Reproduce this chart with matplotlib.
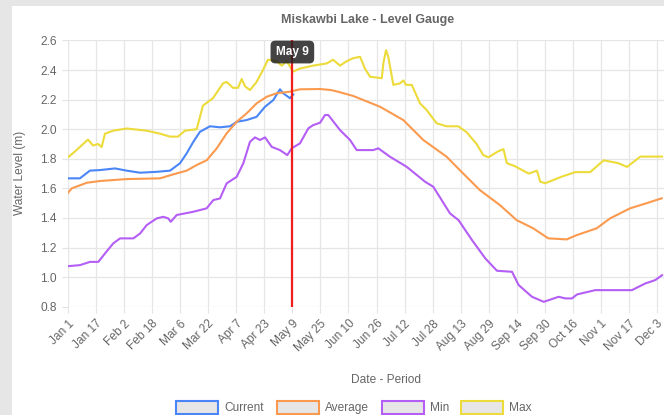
import matplotlib.pyplot as plt
from matplotlib.patches import Rectangle

plt.rcParams['font.family'] = ['Liberation Sans', 'DejaVu Sans']

# day of year (0 = Jan 1) and water level (m)
current_days = [0, 6.8, 12.5, 18.3, 26.8, 33.5, 41.1, 50.6, 58.2, 63.9, 67.7, 71.5, 75.3,
                81, 86.7, 92.4, 96.2, 101.9, 107.6, 112.4, 117.1, 120.9, 122.8, 126.6, 128.5]
current_vals = [1.668, 1.668, 1.72, 1.724, 1.735, 1.72, 1.706, 1.712, 1.72, 1.77, 1.837, 1.915, 1.983,
                2.02, 2.013, 2.02, 2.05, 2.062, 2.084, 2.152, 2.197, 2.27, 2.243, 2.21, 2.235]

average_days = [0, 2.1, 10.7, 18.3, 33.5, 52.5, 60.1, 67.7, 73.4, 79.1, 84.8, 90.5, 96.2, 101.9,
                107.6, 113.4, 119, 126.6, 132.3, 143.8, 150, 155.2, 162.7, 178, 191.3, 202.7,
                216, 225.5, 235, 246.4, 256, 265.4, 274, 284.5, 290.2, 301.6, 309.2, 320.6, 330.1, 338.7]
average_vals = [1.57, 1.60, 1.638, 1.65, 1.663, 1.668, 1.695, 1.72, 1.758, 1.79, 1.87, 1.972, 2.05, 2.107,
                2.175, 2.22, 2.243, 2.254, 2.27, 2.272, 2.265, 2.25, 2.225, 2.152, 2.062, 1.927,
                1.814, 1.70, 1.588, 1.487, 1.385, 1.33, 1.262, 1.255, 1.284, 1.33, 1.397, 1.465, 1.50, 1.533]

min_days = [0, 6.8, 12.5, 17.3, 21.1, 25.8, 29.7, 37.3, 41.1, 44.9, 50.6, 54.4, 57.2, 58.6, 62,
            71.5, 79.1, 82.9, 86.7, 90.5, 96.2, 100, 103.8, 106.7, 109.5, 112.4, 116.2, 120.9,
            125.1, 127.6, 132.3, 137.1, 139.9, 143.8, 146.6, 148.5, 155.2, 160.9, 164.7, 174.2,
            177, 183.7, 193.2, 203.7, 208.4, 217.9, 222.8, 230.5, 238.1, 244.7, 253.3, 257.1,
            264.7, 271.4, 279.9, 283.7, 287.5, 290.4, 300.8, 321.7, 329.3, 335, 338.9]
min_vals = [1.074, 1.081, 1.103, 1.103, 1.16, 1.228, 1.262, 1.262, 1.295, 1.352, 1.397, 1.408, 1.397, 1.374, 1.42,
            1.442, 1.465, 1.521, 1.532, 1.634, 1.678, 1.769, 1.915, 1.945, 1.927, 1.945, 1.881, 1.859,
            1.825, 1.871, 1.904, 2.006, 2.028, 2.044, 2.096, 2.096, 1.994, 1.927, 1.859, 1.859,
            1.871, 1.814, 1.746, 1.645, 1.611, 1.431, 1.385, 1.25, 1.126, 1.043, 1.036, 0.946,
            0.867, 0.833, 0.867, 0.856, 0.856, 0.883, 0.912, 0.912, 0.957, 0.98, 1.013]

max_days = [0, 4, 11.4, 14.3, 17.1, 19.2, 21.1, 25.7, 33.5, 44.9, 52.5, 58.2, 62.7, 66.7, 73.4, 77,
            82.7, 88.4, 90.5, 94.1, 97, 99.1, 101, 103.8, 107.6, 111.2, 114.1, 119, 121.9, 124.8,
            128.4, 132.3, 139.8, 147.6, 151.2, 155.2, 159, 162.6, 166.6, 169.4, 172.3, 179, 179.9,
            181.4, 182.7, 185.6, 189.4, 191.3, 192.8, 196.1, 200.8, 204.6, 210.3, 216, 222.6,
            227.4, 233.1, 236.9, 239.8, 245.3, 248.4, 250.4, 255, 262.8, 267.5, 269.4, 272.3,
            281.8, 289.4, 297.9, 305.6, 314.1, 318.9, 326.5, 338.9]
max_vals = [1.81, 1.85, 1.93, 1.89, 1.90, 1.88, 1.97, 1.99, 2.005, 1.99, 1.97, 1.95, 1.95, 1.99, 2.0, 2.16,
            2.21, 2.31, 2.32, 2.28, 2.28, 2.34, 2.29, 2.265, 2.32, 2.40, 2.47, 2.46, 2.43, 2.46,
            2.39, 2.41, 2.43, 2.445, 2.47, 2.43, 2.46, 2.48, 2.49, 2.41, 2.355, 2.345, 2.445,
            2.535, 2.49, 2.30, 2.31, 2.33, 2.30, 2.30, 2.175, 2.13, 2.04, 2.02, 2.02,
            1.98, 1.90, 1.825, 1.81, 1.85, 1.865, 1.77, 1.75, 1.70, 1.72, 1.645, 1.635,
            1.68, 1.71, 1.71, 1.79, 1.77, 1.745, 1.815, 1.815]

tick_labels = ['Jan 1', 'Jan 17', 'Feb 2', 'Feb 18', 'Mar 6', 'Mar 22', 'Apr 7', 'Apr 23',
               'May 9', 'May 25', 'Jun 10', 'Jun 26', 'Jul 12', 'Jul 28', 'Aug 13', 'Aug 29',
               'Sep 14', 'Sep 30', 'Oct 16', 'Nov 1', 'Nov 17', 'Dec 3']
tick_days = [16 * i for i in range(len(tick_labels))]
y_ticks = [0.8, 1.0, 1.2, 1.4, 1.6, 1.8, 2.0, 2.2, 2.4, 2.6]
marker_day = 128  # May 9

series = [('Current', current_days, current_vals, '#4a86f7'),
          ('Average', average_days, average_vals, '#fb9a4f'),
          ('Min', min_days, min_vals, '#b45ef5'),
          ('Max', max_days, max_vals, '#ecdb3a')]

W, H = 664, 415
fig = plt.figure(figsize=(W / 100, H / 100), dpi=100)
fig.patch.set_facecolor('#e6e6e6')
# white card behind everything
card = Rectangle((12 / W, 0), 1 - 12 / W, 1 - 6 / H, transform=fig.transFigure,
                 facecolor='white', edgecolor='none', zorder=-10)
fig.add_artist(card)

ax = fig.add_axes([68 / W, 1 - 306.7 / H, (W - 68) / W, (306.7 - 40.5) / H])
ax.set_facecolor('none')
for name, d, v, c in series:
    ax.plot(d, v, color=c, lw=1.5, solid_joinstyle='round', zorder=3)
ax.axvline(marker_day, color='#f01e1e', lw=1.6, zorder=4)

ax.set_xlim(0, 340)
ax.set_ylim(0.8, 2.6)
ax.set_xticks(tick_days)
ax.set_xticklabels(tick_labels, rotation=45, ha='right', va='top', rotation_mode='anchor')
ax.set_yticks(y_ticks)
ax.set_yticklabels([f'{t:.1f}' for t in y_ticks])
ax.tick_params(colors='#666666', labelsize=8.6, length=4, width=0.8, pad=4)
ax.tick_params(axis='both', color='#e3e3e3')
ax.grid(True, color='#e6e6e6', lw=0.9)
for s in ax.spines.values():
    s.set_visible(False)

ax.text(marker_day, 2.522, 'May 9', color='white', fontsize=8.6, fontweight='bold',
        ha='center', va='center', zorder=6,
        bbox=dict(boxstyle='round,pad=0.45,rounding_size=0.4', fc='#222222', ec='none', alpha=0.85))

fig.text(368 / W, 1 - 20 / H, 'Miskawbi Lake - Level Gauge', ha='center', va='center',
         fontsize=9, fontweight='bold', color='#666666')
fig.text(20 / W, 1 - 173 / H, 'Water Level (m)', ha='center', va='center', rotation=90,
         fontsize=8.6, color='#666666')
fig.text(386 / W, 1 - 380 / H, 'Date - Period', ha='center', va='center',
         fontsize=8.6, color='#666666')

# legend
box_x = [176, 277, 382, 461]
for (name, d, v, c), bx in zip(series, box_x):
    fig.add_artist(Rectangle((bx / W, 1 - 414 / H), 42 / W, 13 / H, transform=fig.transFigure,
                             facecolor='#e6e6e6', edgecolor=c, lw=1.5, zorder=5))
    fig.text((bx + 48) / W, 1 - 407.5 / H, name, ha='left', va='center',
             fontsize=8.6, color='#666666')

fig.savefig('out.png', dpi=100)
